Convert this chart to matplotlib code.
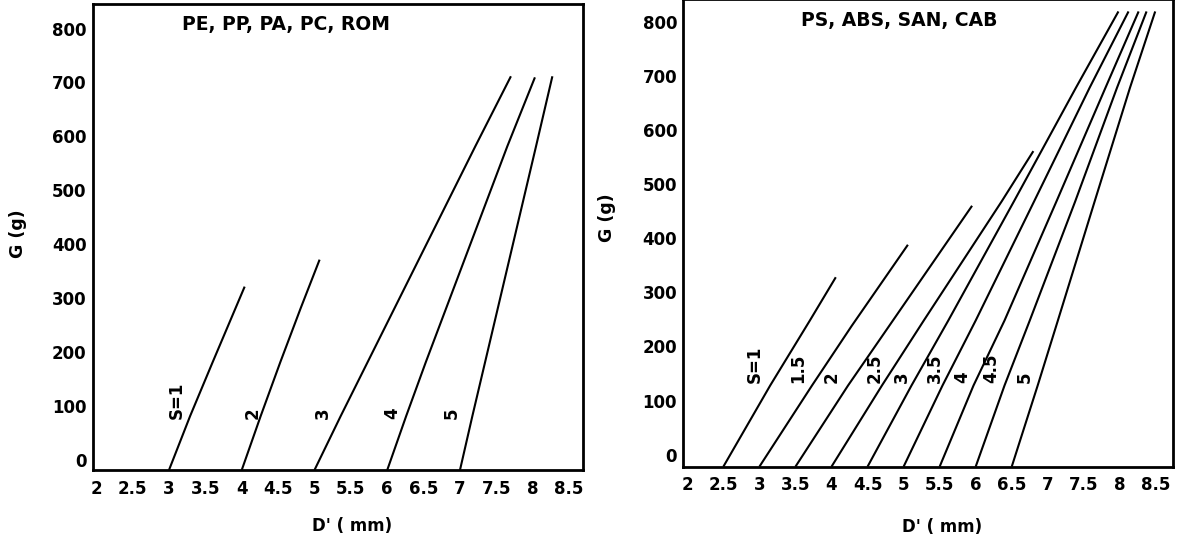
import matplotlib
matplotlib.use("Agg")
import matplotlib.pyplot as plt
import matplotlib.transforms as mtransforms
from matplotlib.ticker import FormatStrFormatter
import numpy as np

plt.rcParams['font.family'] = ['DejaVu Sans']
plt.rcParams['font.weight'] = 'bold'

# left panel: PE, PP, PA, PC, ROM  (G in g, D' in mm)
left_title = "PE, PP, PA, PC, ROM"
left_labels = ["S=1", "2", "3", "4", "5"]
left_G = [[0, 100, 200, 340],
          [0, 100, 200, 300, 390],
          [0, 100, 200, 300, 400, 500, 600, 730],
          [0, 100, 200, 300, 400, 500, 600, 728],
          [0, 100, 200, 300, 400, 500, 600, 730]]
left_D = [[3.0, 3.29, 3.60, 4.04],
          [4.0, 4.26, 4.53, 4.81, 5.07],
          [5.0, 5.36, 5.73, 6.10, 6.47, 6.84, 7.21, 7.70],
          [6.0, 6.26, 6.53, 6.81, 7.09, 7.37, 7.65, 8.03],
          [7.0, 7.17, 7.345, 7.52, 7.695, 7.87, 8.045, 8.27]]

# right panel: PS, ABS, SAN, CAB
right_title = "PS, ABS, SAN, CAB"
right_labels = ["S=1", "1.5", "2", "2.5", "3", "3.5", "4", "4.5", "5"]
right_G = [[0, 150, 270, 350],
           [0, 150, 260, 410],
           [0, 150, 260, 482],
           [0, 150, 270, 490, 583],
           [0, 150, 270, 490, 700, 841],
           [0, 150, 270, 490, 700, 841],
           [0, 150, 270, 490, 700, 841],
           [0, 150, 270, 490, 700, 841],
           [0, 150, 270, 490, 700, 841]]
right_D = [[2.5, 3.15, 3.70, 4.06],
           [3.0, 3.73, 4.28, 5.06],
           [3.5, 4.23, 4.80, 5.95],
           [4.0, 4.70, 5.28, 6.36, 6.80],
           [4.5, 5.11, 5.62, 6.53, 7.39, 7.98],
           [5.0, 5.54, 6.00, 6.81, 7.58, 8.12],
           [5.5, 5.97, 6.40, 7.12, 7.80, 8.26],
           [6.0, 6.40, 6.75, 7.38, 7.96, 8.37],
           [6.5, 6.86, 7.14, 7.65, 8.14, 8.49]]

x_ticks = np.arange(2, 8.51, 0.5)
y_ticks = np.arange(0, 801, 100)

W, H = 1177, 554
fig = plt.figure(figsize=(W / 100, H / 100), dpi=100)


def px_axes(l, r, b, t):
    return fig.add_axes([l / W, 1 - b / H, (r - l) / W, (b - t) / H])


def draw_panel(ax, G, D, labels, label_x, label_g, title, title_x, xlim, lab_shift):
    for g, d in zip(G, D):
        ax.plot(d, g, color='black', lw=1.5, solid_capstyle='butt')
    for txt, lx in zip(labels, label_x):
        ax.text(lx, label_g, txt, rotation=90, ha='center', va='bottom',
                fontsize=12, fontweight='bold')
    ax.text(title_x, 0.955, title, transform=ax.transAxes, ha='center',
            va='center', fontsize=13.5, fontweight='bold')
    ax.set_xlim(*xlim)
    ax.set_ylim(0, 864)
    ax.set_xticks(x_ticks)
    ax.set_yticks(y_ticks)
    ax.xaxis.set_major_formatter(FormatStrFormatter('%g'))
    ax.tick_params(axis='both', length=0, labelsize=12)
    ax.tick_params(axis='x', pad=7)
    ax.tick_params(axis='y', pad=4.5)
    for sp in ax.spines.values():
        sp.set_linewidth(2)
    # tick labels in the scan sit a little above their values
    off = mtransforms.ScaledTranslation(0, lab_shift / 100, fig.dpi_scale_trans)
    for lab in ax.get_yticklabels():
        lab.set_transform(lab.get_transform() + off)


ax1 = px_axes(92.7, 583.3, 470, 4)
draw_panel(ax1, left_G, left_D, left_labels,
           [3.10, 4.15, 5.11, 6.07, 6.89], 95,
           left_title, 0.395, (1.951, 8.695), 10)

ax2 = px_axes(683.3, 1173.3, 466.7, -1)
draw_panel(ax2, right_G, right_D, right_labels,
           [2.94, 3.54, 4.00, 4.60, 4.97, 5.43, 5.82, 6.21, 6.68], 154,
           right_title, 0.44, (1.945, 8.741), 12)

fig.text(18 / W, 1 - 234 / H, "G (g)", rotation=90, ha='center', va='center',
         fontsize=12.5, fontweight='bold')
fig.text(607 / W, 1 - 218 / H, "G (g)", rotation=90, ha='center', va='center',
         fontsize=12.5, fontweight='bold')
fig.text(352 / W, 1 - 526 / H, "D' ( mm)", ha='center', va='center',
         fontsize=12, fontweight='bold')
fig.text(942 / W, 1 - 527 / H, "D' ( mm)", ha='center', va='center',
         fontsize=12, fontweight='bold')

fig.savefig("out.png", dpi=100, facecolor='white')
